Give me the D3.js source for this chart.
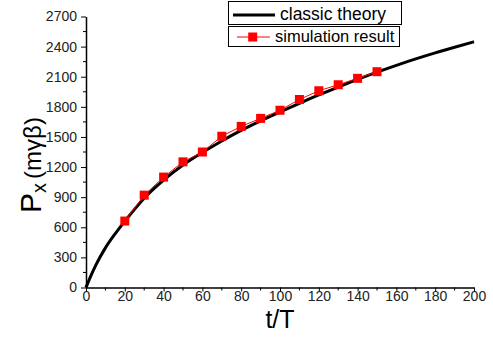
<!DOCTYPE html>
<html><head><meta charset="utf-8">
<script src="https://cdn.jsdelivr.net/npm/d3@7"></script>
<style>body{margin:0;background:#fff}svg{display:block}text{font-family:"Liberation Sans",Arial,sans-serif}</style>
</head><body>
<script>
// Data
const theoryT = [0, 2.5, 5, 10, 15, 20, 30, 40, 50, 60, 70, 80, 90, 100, 110, 120, 130, 140, 150, 160, 170, 180, 190, 200];
const theoryP = [0, 115, 220, 395, 535, 660, 890, 1070, 1220, 1345, 1460, 1565, 1660, 1748, 1835, 1918, 1997, 2073, 2145, 2213, 2278, 2338, 2394, 2448];
const simT = [20, 30, 40, 50, 60, 70, 80, 90, 100, 110, 120, 130, 140, 150];
const simP = [662, 920, 1100, 1252, 1350, 1507, 1605, 1685, 1766, 1873, 1960, 2020, 2084, 2150];
const xTicks = [0, 20, 40, 60, 80, 100, 120, 140, 160, 180, 200];
const yTicks = [0, 300, 600, 900, 1200, 1500, 1800, 2100, 2400, 2700];
const legendLabels = ["classic theory", "simulation result"];

const W = 493, H = 343;
const svg = d3.select("body").append("svg").attr("width", W).attr("height", H);
const x = d3.scaleLinear().domain([0, 200]).range([86, 474]);
const y = d3.scaleLinear().domain([0, 2700]).range([287.5, 16.5]);

const xMinor = d3.range(0, 201, 10).filter(v => v % 20 !== 0);
const yMinor = d3.range(0, 2701, 150).filter(v => v % 300 !== 0);

const gx = svg.append("g").attr("transform", `translate(0,${y(0)})`);
gx.call(d3.axisBottom(x).tickValues(xTicks).tickFormat(d3.format("d")).tickSize(4).tickPadding(0).tickSizeOuter(0));
gx.append("g").selectAll("line").data(xMinor).join("line")
  .attr("x1", d => x(d)).attr("x2", d => x(d)).attr("y1", 0).attr("y2", 3).attr("stroke", "#000");
const gy = svg.append("g").attr("transform", `translate(${x(0)},0)`);
gy.call(d3.axisLeft(y).tickValues(yTicks).tickFormat(d3.format("d")).tickSize(5).tickPadding(4).tickSizeOuter(0));
gy.append("g").selectAll("line").data(yMinor).join("line")
  .attr("y1", d => y(d)).attr("y2", d => y(d)).attr("x1", 0).attr("x2", -3).attr("stroke", "#000");
[gx, gy].forEach(g => {
  g.select(".domain").attr("stroke", "#000").attr("stroke-width", 1.5);
  g.selectAll(".tick line").attr("stroke", "#000").attr("stroke-width", 1);
  g.selectAll(".tick text").attr("font-size", 14).attr("fill", "#222")
   .attr("font-family", '"Liberation Sans",Arial,sans-serif');
});

// theory curve
const theory = theoryT.map((t, i) => ({t, p: theoryP[i]}));
svg.append("path").datum(theory)
  .attr("fill", "none").attr("stroke", "#000").attr("stroke-width", 3)
  .attr("d", d3.line().x(d => x(d.t)).y(d => y(d.p)).curve(d3.curveMonotoneX));

// simulation
const sim = simT.map((t, i) => ({t, p: simP[i]}));
svg.append("path").datum(sim)
  .attr("fill", "none").attr("stroke", "#ff0000").attr("stroke-width", 1)
  .attr("d", d3.line().x(d => x(d.t)).y(d => y(d.p)));
const ms = 9;
svg.append("g").selectAll("rect").data(sim).join("rect")
  .attr("x", d => x(d.t) - ms / 2).attr("y", d => y(d.p) - ms / 2)
  .attr("width", ms).attr("height", ms).attr("fill", "#ff0000");

// axis titles
svg.append("text").attr("x", 280).attr("y", 328).attr("text-anchor", "middle")
  .attr("font-size", 25).attr("fill", "#000").text("t/T");
const yt = svg.append("text").attr("transform", "translate(41,165) rotate(-90)")
  .attr("text-anchor", "middle").attr("fill", "#000");
yt.append("tspan").attr("font-size", 30).text("P");
yt.append("tspan").attr("font-size", 20).attr("dy", 5).text("x");
yt.append("tspan").attr("font-size", 24).attr("dy", -5).attr("dx", 4).text("(mγβ)");

// legend
const lg = svg.append("g");
lg.append("rect").attr("x", 228.5).attr("y", 1.5).attr("width", 173).attr("height", 23)
  .attr("fill", "#fff").attr("stroke", "#000").attr("stroke-width", 1);
lg.append("rect").attr("x", 228.5).attr("y", 26.5).attr("width", 171).attr("height", 20)
  .attr("fill", "#fff").attr("stroke", "#000").attr("stroke-width", 1);
lg.append("line").attr("x1", 233).attr("x2", 275).attr("y1", 15).attr("y2", 15)
  .attr("stroke", "#000").attr("stroke-width", 3);
lg.append("text").attr("x", 280).attr("y", 20).attr("font-size", 17.5).attr("fill", "#000").text(legendLabels[0]);
lg.append("line").attr("x1", 237).attr("x2", 270).attr("y1", 37).attr("y2", 37)
  .attr("stroke", "#ff0000").attr("stroke-width", 1);
lg.append("rect").attr("x", 252.7 - 4.5).attr("y", 37 - 4.5).attr("width", 9).attr("height", 9).attr("fill", "#ff0000");
lg.append("text").attr("x", 275).attr("y", 42).attr("font-size", 16.5).attr("fill", "#000").text(legendLabels[1]);
</script>
</body></html>
